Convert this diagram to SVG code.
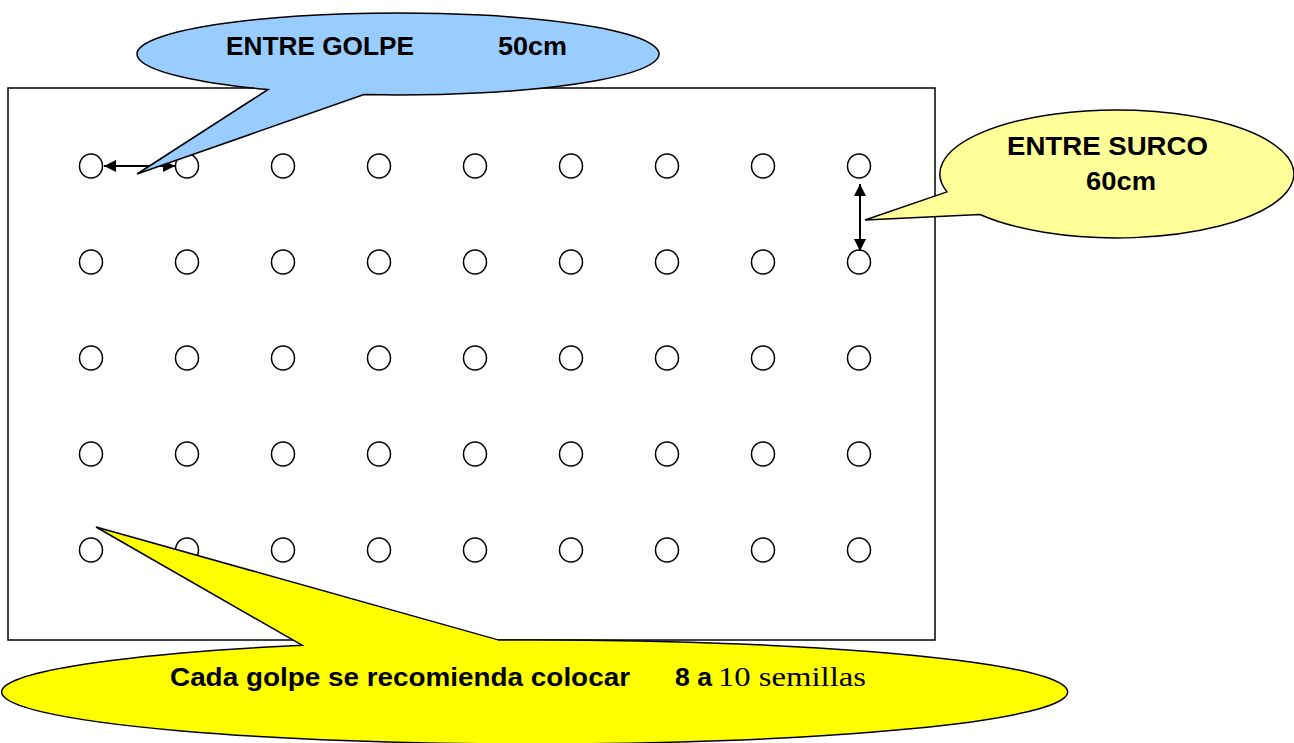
<svg xmlns="http://www.w3.org/2000/svg" width="1294" height="743" viewBox="0 0 1294 743">
<style>
.hole{fill:#fff;stroke:#000;stroke-width:1.5}
.lbl{font-family:"Liberation Sans",Arial,sans-serif;font-weight:bold;fill:#000}
.ser{font-family:"Liberation Serif","Times New Roman",serif;fill:#000}
.call{stroke:#000;stroke-width:1.5;stroke-linejoin:miter}
.arr{stroke:#000;stroke-width:2;fill:none}
</style>
<defs>
<marker id="ah" viewBox="0 0 10 10" refX="10" refY="5" markerWidth="6" markerHeight="6" orient="auto-start-reverse" markerUnits="strokeWidth">
<path d="M0,0 L10,5 L0,10 Z" fill="#000"/>
</marker>
</defs>
<rect width="1294" height="743" fill="#fff"/>
<g id="field">
<rect x="8" y="88" width="927" height="552" fill="#fff" stroke="#000" stroke-width="1.5"/>
</g>
<g id="holes">
<g id="row1">
<ellipse class="hole" cx="91" cy="166" rx="11.5" ry="12"/><ellipse class="hole" cx="187" cy="166" rx="11.5" ry="12"/><ellipse class="hole" cx="283" cy="166" rx="11.5" ry="12"/><ellipse class="hole" cx="379" cy="166" rx="11.5" ry="12"/><ellipse class="hole" cx="475" cy="166" rx="11.5" ry="12"/><ellipse class="hole" cx="571" cy="166" rx="11.5" ry="12"/><ellipse class="hole" cx="667" cy="166" rx="11.5" ry="12"/><ellipse class="hole" cx="763" cy="166" rx="11.5" ry="12"/><ellipse class="hole" cx="859" cy="166" rx="11.5" ry="12"/>
</g>
<g id="row2">
<ellipse class="hole" cx="91" cy="262" rx="11.5" ry="12"/><ellipse class="hole" cx="187" cy="262" rx="11.5" ry="12"/><ellipse class="hole" cx="283" cy="262" rx="11.5" ry="12"/><ellipse class="hole" cx="379" cy="262" rx="11.5" ry="12"/><ellipse class="hole" cx="475" cy="262" rx="11.5" ry="12"/><ellipse class="hole" cx="571" cy="262" rx="11.5" ry="12"/><ellipse class="hole" cx="667" cy="262" rx="11.5" ry="12"/><ellipse class="hole" cx="763" cy="262" rx="11.5" ry="12"/><ellipse class="hole" cx="859" cy="262" rx="11.5" ry="12"/>
</g>
<g id="row3">
<ellipse class="hole" cx="91" cy="358" rx="11.5" ry="12"/><ellipse class="hole" cx="187" cy="358" rx="11.5" ry="12"/><ellipse class="hole" cx="283" cy="358" rx="11.5" ry="12"/><ellipse class="hole" cx="379" cy="358" rx="11.5" ry="12"/><ellipse class="hole" cx="475" cy="358" rx="11.5" ry="12"/><ellipse class="hole" cx="571" cy="358" rx="11.5" ry="12"/><ellipse class="hole" cx="667" cy="358" rx="11.5" ry="12"/><ellipse class="hole" cx="763" cy="358" rx="11.5" ry="12"/><ellipse class="hole" cx="859" cy="358" rx="11.5" ry="12"/>
</g>
<g id="row4">
<ellipse class="hole" cx="91" cy="454" rx="11.5" ry="12"/><ellipse class="hole" cx="187" cy="454" rx="11.5" ry="12"/><ellipse class="hole" cx="283" cy="454" rx="11.5" ry="12"/><ellipse class="hole" cx="379" cy="454" rx="11.5" ry="12"/><ellipse class="hole" cx="475" cy="454" rx="11.5" ry="12"/><ellipse class="hole" cx="571" cy="454" rx="11.5" ry="12"/><ellipse class="hole" cx="667" cy="454" rx="11.5" ry="12"/><ellipse class="hole" cx="763" cy="454" rx="11.5" ry="12"/><ellipse class="hole" cx="859" cy="454" rx="11.5" ry="12"/>
</g>
<g id="row5">
<ellipse class="hole" cx="91" cy="550" rx="11.5" ry="12"/><ellipse class="hole" cx="187" cy="550" rx="11.5" ry="12"/><ellipse class="hole" cx="283" cy="550" rx="11.5" ry="12"/><ellipse class="hole" cx="379" cy="550" rx="11.5" ry="12"/><ellipse class="hole" cx="475" cy="550" rx="11.5" ry="12"/><ellipse class="hole" cx="571" cy="550" rx="11.5" ry="12"/><ellipse class="hole" cx="667" cy="550" rx="11.5" ry="12"/><ellipse class="hole" cx="763" cy="550" rx="11.5" ry="12"/><ellipse class="hole" cx="859" cy="550" rx="11.5" ry="12"/>
</g>
</g>
<g id="connectors">
<line class="arr" x1="104" y1="166" x2="175" y2="166" marker-start="url(#ah)" marker-end="url(#ah)"/>
<line class="arr" x1="860" y1="184" x2="860" y2="251" marker-start="url(#ah)" marker-end="url(#ah)"/>
</g>
<g id="callout-golpe">
<path class="call" fill="#99CCFF" d="M268,89.5 L137,174 L364,94.6 A261,41 0 1 0 268,89.5 Z"/>
<text class="lbl" x="226" y="55" font-size="26" textLength="188" lengthAdjust="spacingAndGlyphs">ENTRE GOLPE</text>
<text class="lbl" x="498" y="55" font-size="26" textLength="69" lengthAdjust="spacingAndGlyphs">50cm</text>
</g>
<g id="callout-surco">
<path class="call" fill="#FFFF99" d="M947,191.9 L865,220 L980,214.5 A177,64 0 1 0 947,191.9 Z"/>
<text class="lbl" x="1007" y="155" font-size="26" textLength="201" lengthAdjust="spacingAndGlyphs">ENTRE SURCO</text>
<text class="lbl" x="1086" y="190" font-size="26" textLength="70" lengthAdjust="spacingAndGlyphs">60cm</text>
</g>
<g id="callout-semillas">
<path class="call" fill="#FFFF00" d="M302,645.2 L96,527 L499,640.1 A533,52 0 1 1 302,645.2 Z"/>
<text class="lbl" x="170" y="686" font-size="25" textLength="460" lengthAdjust="spacingAndGlyphs">Cada golpe se recomienda colocar</text>
<text class="lbl" x="675" y="686" font-size="25" textLength="37" lengthAdjust="spacingAndGlyphs">8 a</text>
<text class="ser" x="718" y="686" font-size="27" textLength="148" lengthAdjust="spacingAndGlyphs">10 semillas</text>
</g>
</svg>
